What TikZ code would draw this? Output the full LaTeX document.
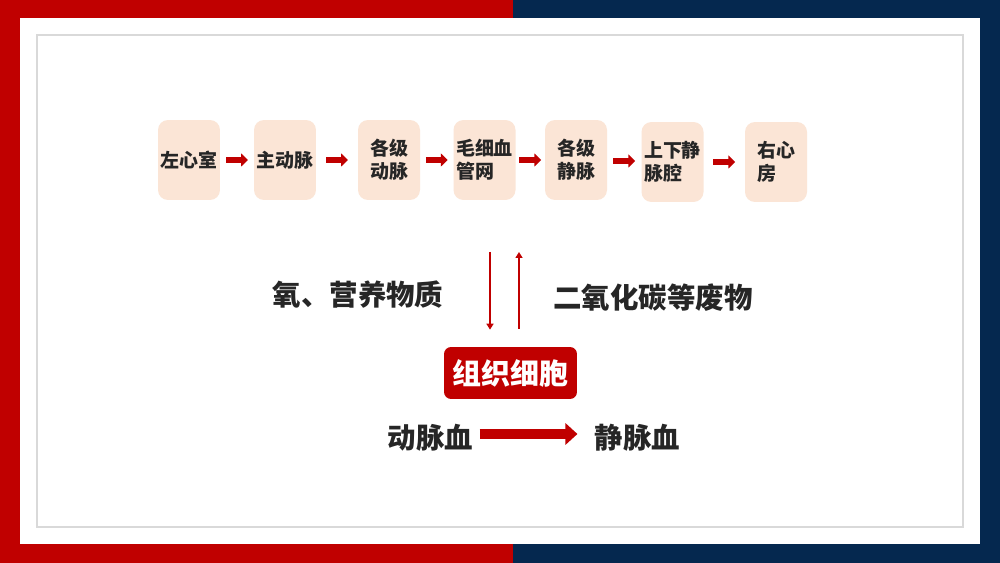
\documentclass[tikz,border=0pt]{standalone}
\usepackage{fontspec}
\newfontfamily\cjk{Noto Sans CJK SC}
\usetikzlibrary{arrows.meta,positioning,calc}
\definecolor{hxred}{HTML}{C00000}
\definecolor{hxnavy}{HTML}{05284F}
\definecolor{hxpeach}{HTML}{FBE5D6}
\definecolor{hxgray}{HTML}{D9D9D9}
\definecolor{hxtext}{HTML}{262626}

\begin{document}
\begin{tikzpicture}[x=0.02cm,y=-0.02cm,
  stage/.style={rectangle,rounded corners=0.2cm,fill=hxpeach,minimum width=1.24cm,
                minimum height=1.6cm,inner sep=0pt,align=left,text=hxtext,
                font=\cjk\bfseries\fontsize{10.8pt}{13pt}\selectfont},
  substance/.style={inner sep=0pt,text=hxtext,font=\cjk\bfseries\fontsize{16.2pt}{18pt}\selectfont},
  cellbox/.style={rectangle,rounded corners=0.14cm,fill=hxred,minimum width=2.66cm,
                  minimum height=1.04cm,text=white,font=\cjk\bfseries\fontsize{16.5pt}{18pt}\selectfont},
  flow/.style={-{Triangle[length=0.14cm,width=0.26cm]},line width=0.12cm,hxred},
  bigflow/.style={-{Triangle[length=0.24cm,width=0.42cm]},line width=0.22cm,hxred},
  exch/.style={-{Triangle[length=0.12cm,width=0.14cm]},line width=0.04cm,hxred}
]
\useasboundingbox (0,0) rectangle (1000,563);

% ---- Frame --------------------------------------------------
\fill[hxred]  (0,0)   rectangle (513,563);
\fill[hxnavy] (513,0) rectangle (1000,563);
\fill[white]  (20,18) rectangle (980,544);
\draw[hxgray,line width=0.03cm] (37,35) rectangle (963,527);

% ---- Circulation path ---------------------------------------
\node[stage] (lv)  at (189,160)   {左心室};
\node[stage] (ao)  at (285,160)   {主动脉};
\node[stage] (art) at (389,160)   {各级\\动脉};
\node[stage] (cap) at (484.5,160) {毛细血\\管网};
\node[stage] (vei) at (576,160)   {各级\\静脉};
\node[stage] (vc)  at (672.5,162) {上下静\\脉腔};
\node[stage] (ra)  at (776,162)   {右心\\房};

\foreach \a/\b in {lv/ao,ao/art,art/cap,cap/vei,vei/vc,vc/ra}
  \draw[flow] ($(\a.east)!.5!(\b.west)-(11,0)$) -- ++(22,0);

% ---- Exchange with tissue cells -----------------------------
\node[substance] (o2)  at (358,295) {氧、营养物质};
\node[substance] (co2) at (653,298) {二氧化碳等废物};
\node[cellbox]   (cell) at (510.5,373) {组织细胞};

\coordinate (din) at (490,252);
\coordinate (uout) at (519,252);
\draw[exch] (din) -- (din |- cell.north) [shorten >=0.34cm];
\draw[exch,shorten <=0.36cm] (uout |- cell.north) -- (uout);

% ---- Blood change -------------------------------------------
\node[substance] (abl) at (430.5,438) {动脉血};
\node[substance] (vbl) at (637.5,438) {静脉血};
\draw[bigflow] ($(abl.east)+(6,-4)$) -- ($(vbl.west)+(-17,-4)$);

\end{tikzpicture}
\end{document}
